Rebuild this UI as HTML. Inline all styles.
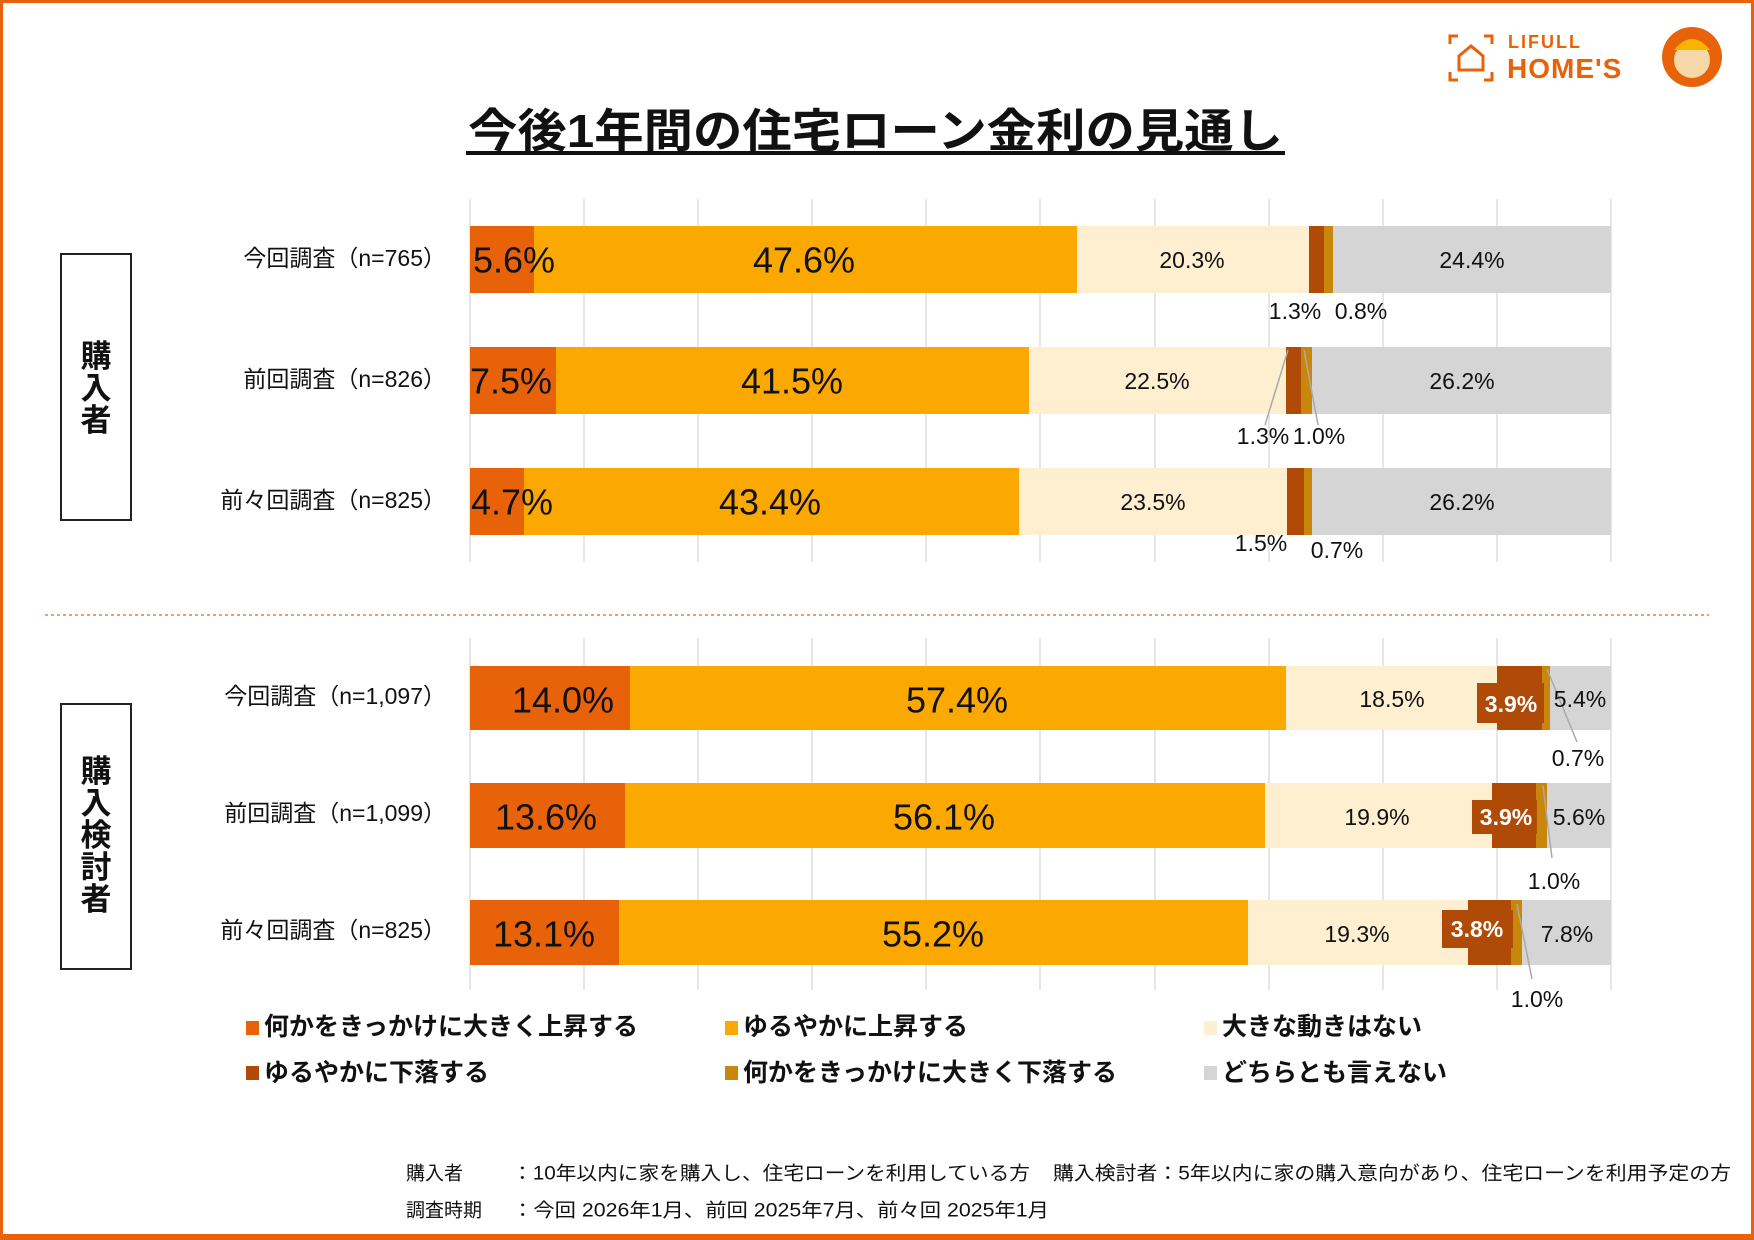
<!DOCTYPE html>
<html><head><meta charset="utf-8"><style>
html,body{margin:0;padding:0;background:#fff}
svg{display:block}
text{font-family:"Liberation Sans","Noto Sans CJK JP",sans-serif}
</style></head><body>
<svg width="1754" height="1240" viewBox="0 0 1754 1240" xmlns="http://www.w3.org/2000/svg">
<rect x="1.5" y="1.5" width="1751" height="1236" fill="#fff" stroke="#E8620A" stroke-width="3"/>
<rect x="0" y="1234" width="1754" height="6" fill="#E8620A"/>
<!-- logo -->
<g fill="none" stroke="#E8620A" stroke-width="3">
<path d="M1450 44 v-8 h8 M1484 36 h8 v8 M1450 72 v8 h8 M1484 80 h8 v-8"/>
<path d="M1459 70 v-14 l12 -10 l12 10 v14 z"/>
</g>
<text x="1508" y="48" font-size="18" font-weight="bold" fill="#E8620A" letter-spacing="2">LIFULL</text>
<text x="1507" y="78" font-size="28" font-weight="bold" fill="#E8620A" letter-spacing="1">HOME'S</text>
<circle cx="1692" cy="57" r="30" fill="#E8620A"/>
<circle cx="1692" cy="60" r="18" fill="#F6D7A8"/>
<path d="M1674 50 q18 -22 36 0 z" fill="#F8B500"/>
<!-- title -->
<text x="468" y="147" font-size="46" font-weight="bold" fill="#111" textLength="815" lengthAdjust="spacingAndGlyphs">今後1年間の住宅ローン金利の見通し</text>
<rect x="466" y="151" width="819" height="4" fill="#111"/>
<!-- grids -->
<g stroke="#DDD" stroke-width="1.5">
<line x1="470" y1="199" x2="470" y2="562"/><line x1="584" y1="199" x2="584" y2="562"/><line x1="698" y1="199" x2="698" y2="562"/><line x1="812" y1="199" x2="812" y2="562"/><line x1="926" y1="199" x2="926" y2="562"/><line x1="1040" y1="199" x2="1040" y2="562"/><line x1="1155" y1="199" x2="1155" y2="562"/><line x1="1269" y1="199" x2="1269" y2="562"/><line x1="1383" y1="199" x2="1383" y2="562"/><line x1="1497" y1="199" x2="1497" y2="562"/><line x1="1611" y1="199" x2="1611" y2="562"/>
<line x1="470" y1="638" x2="470" y2="990"/><line x1="584" y1="638" x2="584" y2="990"/><line x1="698" y1="638" x2="698" y2="990"/><line x1="812" y1="638" x2="812" y2="990"/><line x1="926" y1="638" x2="926" y2="990"/><line x1="1040" y1="638" x2="1040" y2="990"/><line x1="1155" y1="638" x2="1155" y2="990"/><line x1="1269" y1="638" x2="1269" y2="990"/><line x1="1383" y1="638" x2="1383" y2="990"/><line x1="1497" y1="638" x2="1497" y2="990"/><line x1="1611" y1="638" x2="1611" y2="990"/>
</g>
<line x1="45" y1="615" x2="1709" y2="615" stroke="#E8620A" stroke-width="1.2" stroke-dasharray="3,3"/>
<!-- side boxes -->
<rect x="61" y="254" width="70" height="266" fill="#fff" stroke="#222" stroke-width="2"/>
<g font-size="31" font-weight="bold" text-anchor="middle" fill="#111">
<text x="96" y="367">購</text><text x="96" y="399">入</text><text x="96" y="431">者</text>
</g>
<rect x="61" y="704" width="70" height="265" fill="#fff" stroke="#222" stroke-width="2"/>
<g font-size="31" font-weight="bold" text-anchor="middle" fill="#111">
<text x="96" y="782">購</text><text x="96" y="814">入</text><text x="96" y="846">検</text><text x="96" y="878">討</text><text x="96" y="910">者</text>
</g>
<!-- row labels -->
<g font-size="23" text-anchor="end" fill="#111" dominant-baseline="central">
<text x="446" y="258">今回調査（n=765）</text>
<text x="446" y="379">前回調査（n=826）</text>
<text x="446" y="500">前々回調査（n=825）</text>
<text x="446" y="696">今回調査（n=1,097）</text>
<text x="446" y="813">前回調査（n=1,099）</text>
<text x="446" y="930">前々回調査（n=825）</text>
</g>
<!-- bars top -->
<g>
<rect x="470" y="226" width="64" height="67" fill="#E8620A"/><rect x="534" y="226" width="543" height="67" fill="#FBA900"/><rect x="1077" y="226" width="232" height="67" fill="#FDEFD0"/><rect x="1309" y="226" width="15" height="67" fill="#B04A07"/><rect x="1324" y="226" width="9" height="67" fill="#C8860A"/><rect x="1333" y="226" width="278" height="67" fill="#D5D5D5"/>
<rect x="470" y="347" width="86" height="67" fill="#E8620A"/><rect x="556" y="347" width="473" height="67" fill="#FBA900"/><rect x="1029" y="347" width="257" height="67" fill="#FDEFD0"/><rect x="1286" y="347" width="15" height="67" fill="#B04A07"/><rect x="1301" y="347" width="11" height="67" fill="#C8860A"/><rect x="1312" y="347" width="299" height="67" fill="#D5D5D5"/>
<rect x="470" y="468" width="54" height="67" fill="#E8620A"/><rect x="524" y="468" width="495" height="67" fill="#FBA900"/><rect x="1019" y="468" width="268" height="67" fill="#FDEFD0"/><rect x="1287" y="468" width="17" height="67" fill="#B04A07"/><rect x="1304" y="468" width="8" height="67" fill="#C8860A"/><rect x="1312" y="468" width="299" height="67" fill="#D5D5D5"/>
</g>
<!-- bars bottom -->
<g>
<rect x="470" y="666" width="160" height="64" fill="#E8620A"/><rect x="630" y="666" width="656" height="64" fill="#FBA900"/><rect x="1286" y="666" width="211" height="64" fill="#FDEFD0"/><rect x="1497" y="666" width="45" height="64" fill="#B04A07"/><rect x="1542" y="666" width="8" height="64" fill="#C8860A"/><rect x="1550" y="666" width="61" height="64" fill="#D5D5D5"/>
<rect x="470" y="783" width="155" height="65" fill="#E8620A"/><rect x="625" y="783" width="640" height="65" fill="#FBA900"/><rect x="1265" y="783" width="227" height="65" fill="#FDEFD0"/><rect x="1492" y="783" width="44" height="65" fill="#B04A07"/><rect x="1536" y="783" width="11" height="65" fill="#C8860A"/><rect x="1547" y="783" width="64" height="65" fill="#D5D5D5"/>
<rect x="470" y="900" width="149" height="65" fill="#E8620A"/><rect x="619" y="900" width="629" height="65" fill="#FBA900"/><rect x="1248" y="900" width="220" height="65" fill="#FDEFD0"/><rect x="1468" y="900" width="43" height="65" fill="#B04A07"/><rect x="1511" y="900" width="11" height="65" fill="#C8860A"/><rect x="1522" y="900" width="89" height="65" fill="#D5D5D5"/>
</g>
<!-- leader lines -->
<g stroke="#AAA" stroke-width="1.5">
<line x1="1288" y1="350" x2="1265" y2="425"/><line x1="1304" y1="350" x2="1318" y2="425"/>
<line x1="1547" y1="669" x2="1577" y2="742"/>
<line x1="1543" y1="786" x2="1552" y2="858"/>
<line x1="1517" y1="904" x2="1532" y2="979"/>
</g>
<!-- 3.x boxes -->
<rect x="1477" y="683" width="67" height="40" fill="#B04A07"/>
<rect x="1472" y="800" width="65" height="34" fill="#B04A07"/>
<rect x="1442" y="910" width="71" height="38" fill="#B04A07"/>
<!-- big labels -->
<g font-size="36" text-anchor="middle" fill="#111" dominant-baseline="central">
<text x="514" y="260">5.6%</text><text x="804" y="260">47.6%</text>
<text x="511" y="381">7.5%</text><text x="792" y="381">41.5%</text>
<text x="512" y="502">4.7%</text><text x="770" y="502">43.4%</text>
<text x="563" y="700">14.0%</text><text x="957" y="700">57.4%</text>
<text x="546" y="817">13.6%</text><text x="944" y="817">56.1%</text>
<text x="544" y="934">13.1%</text><text x="933" y="934">55.2%</text>
</g>
<g font-size="23" text-anchor="middle" fill="#111" dominant-baseline="central">
<text x="1192" y="260">20.3%</text><text x="1472" y="260">24.4%</text>
<text x="1157" y="381">22.5%</text><text x="1462" y="381">26.2%</text>
<text x="1153" y="502">23.5%</text><text x="1462" y="502">26.2%</text>
<text x="1295" y="311">1.3%</text><text x="1361" y="311">0.8%</text>
<text x="1263" y="436">1.3%</text><text x="1319" y="436">1.0%</text>
<text x="1261" y="543">1.5%</text><text x="1337" y="550">0.7%</text>
<text x="1392" y="699">18.5%</text><text x="1580" y="699">5.4%</text><text x="1578" y="758">0.7%</text>
<text x="1377" y="817">19.9%</text><text x="1579" y="817">5.6%</text><text x="1554" y="881">1.0%</text>
<text x="1357" y="934">19.3%</text><text x="1567" y="934">7.8%</text><text x="1537" y="999">1.0%</text>
</g>
<g font-size="23" font-weight="bold" text-anchor="middle" fill="#fff" dominant-baseline="central">
<text x="1511" y="704">3.9%</text><text x="1506" y="817">3.9%</text><text x="1477" y="929">3.8%</text>
</g>
<!-- legend -->
<rect x="246" y="1021" width="13" height="14" fill="#E8620A"/>
<rect x="725" y="1021" width="13" height="14" fill="#FBA900"/>
<rect x="1204" y="1021" width="13" height="14" fill="#FDEFD0"/>
<rect x="246" y="1066" width="13" height="14" fill="#B04A07"/>
<rect x="725" y="1066" width="13" height="14" fill="#C8860A"/>
<rect x="1204" y="1066" width="13" height="14" fill="#D5D5D5"/>
<g font-size="25" font-weight="bold" fill="#111" dominant-baseline="central">
<text x="264" y="1027">何かをきっかけに大きく上昇する</text>
<text x="743" y="1027">ゆるやかに上昇する</text>
<text x="1222" y="1027">大きな動きはない</text>
<text x="264" y="1073">ゆるやかに下落する</text>
<text x="743" y="1073">何かをきっかけに大きく下落する</text>
<text x="1222" y="1073">どちらとも言えない</text>
</g>
<!-- footnotes -->
<g font-size="19" fill="#111" dominant-baseline="central">
<text x="406" y="1174">購入者</text>
<text x="512" y="1174" textLength="518" lengthAdjust="spacingAndGlyphs">：10年以内に家を購入し、住宅ローンを利用している方</text>
<text x="1053" y="1174" textLength="678" lengthAdjust="spacingAndGlyphs">購入検討者：5年以内に家の購入意向があり、住宅ローンを利用予定の方</text>
<text x="406" y="1211">調査時期</text>
<text x="512" y="1211" textLength="537" lengthAdjust="spacingAndGlyphs">：今回 2026年1月、前回 2025年7月、前々回 2025年1月</text>
</g>
</svg>
</body></html>
